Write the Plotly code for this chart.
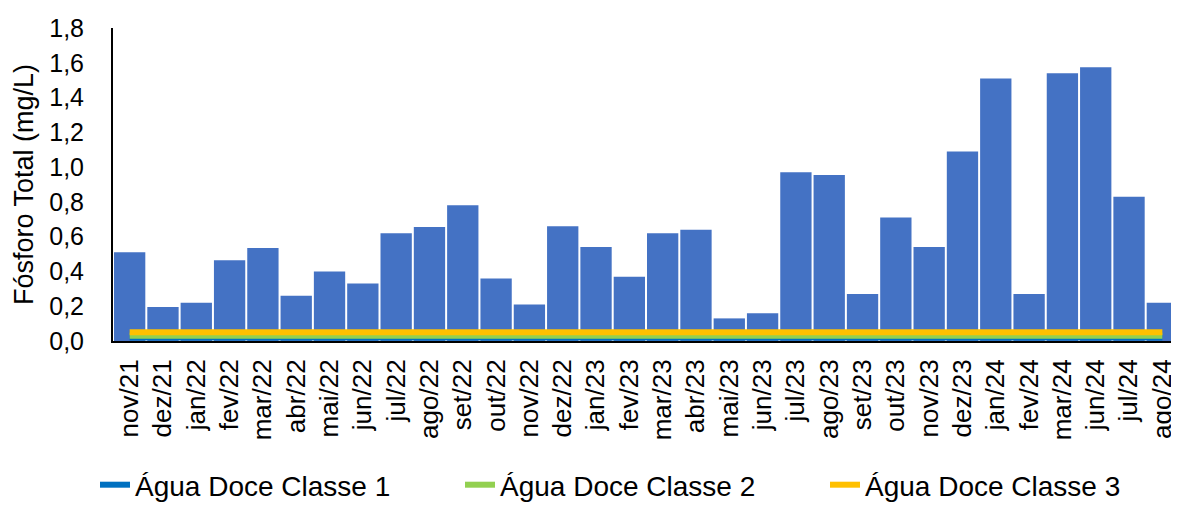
import plotly.graph_objects as go

categories = ["nov/21", "dez/21", "jan/22", "fev/22", "mar/22", "abr/22", "mai/22", "jun/22",
              "jul/22", "ago/22", "set/22", "out/22", "nov/22", "dez/22", "jan/23", "fev/23",
              "mar/23", "abr/23", "mai/23", "jun/23", "jul/23", "ago/23", "set/23", "out/23",
              "nov/23", "dez/23", "jan/24", "fev/24", "mar/24", "jun/24", "jul/24", "ago/24"]
fosforo = [0.51, 0.195, 0.22, 0.465, 0.535, 0.26, 0.40, 0.33,
           0.62, 0.655, 0.78, 0.36, 0.21, 0.66, 0.54, 0.37,
           0.62, 0.64, 0.13, 0.16, 0.97, 0.955, 0.27, 0.71,
           0.54, 1.09, 1.51, 0.27, 1.54, 1.575, 0.83, 0.22]
limite_classe1 = 0.02
limite_classe2 = 0.03
limite_classe3 = 0.05

FONT = "Liberation Sans, Arial, sans-serif"
W, H = 1171, 505

fig = go.Figure()
fig.add_trace(go.Bar(x=categories, y=fosforo, marker=dict(color="#4472C4", line=dict(width=0)),
                     showlegend=False, name="Fósforo Total"))
series = [("Água Doce Classe 1", limite_classe1, "#0070C0", "legend"),
          ("Água Doce Classe 2", limite_classe2, "#92D050", "legend2"),
          ("Água Doce Classe 3", limite_classe3, "#FFC000", "legend3")]
for name, val, col, lg in series:
    fig.add_trace(go.Scatter(x=categories, y=[val] * len(categories), mode="lines", name=name,
                             line=dict(color=col, width=6), legend=lg))

legend_x = [87, 452, 817]


def legend_cfg(xpx):
    return dict(orientation="h", x=xpx / W, xref="container", xanchor="left",
                y=28 / H, yref="container", yanchor="middle", font=dict(size=28),
                bgcolor="rgba(0,0,0,0)")


fig.update_layout(
    width=W, height=H, autosize=False,
    margin=dict(l=105, r=0, t=20, b=172, autoexpand=False),
    paper_bgcolor="white", plot_bgcolor="white",
    separators=",.",
    bargap=0.06,
    font=dict(family=FONT, color="black", size=24),
    legend=legend_cfg(legend_x[0]),
    legend2=legend_cfg(legend_x[1]),
    legend3=legend_cfg(legend_x[2]),
)
fig.update_xaxes(showline=True, linecolor="black", linewidth=2, tickangle=-90,
                 ticks="", tickfont=dict(size=26), showgrid=False, range=[-0.5, 31.5],
                 ticklabelstandoff=6)
fig.update_yaxes(showline=True, linecolor="black", linewidth=2, range=[0, 1.8], dtick=0.2,
                 tickformat=".1f", ticks="", showgrid=False, zeroline=False,
                 tickfont=dict(size=25), ticklabelstandoff=22,
                 title=dict(text="Fósforo Total (mg/L)", font=dict(size=27), standoff=8))

fig.write_html("out.html")
